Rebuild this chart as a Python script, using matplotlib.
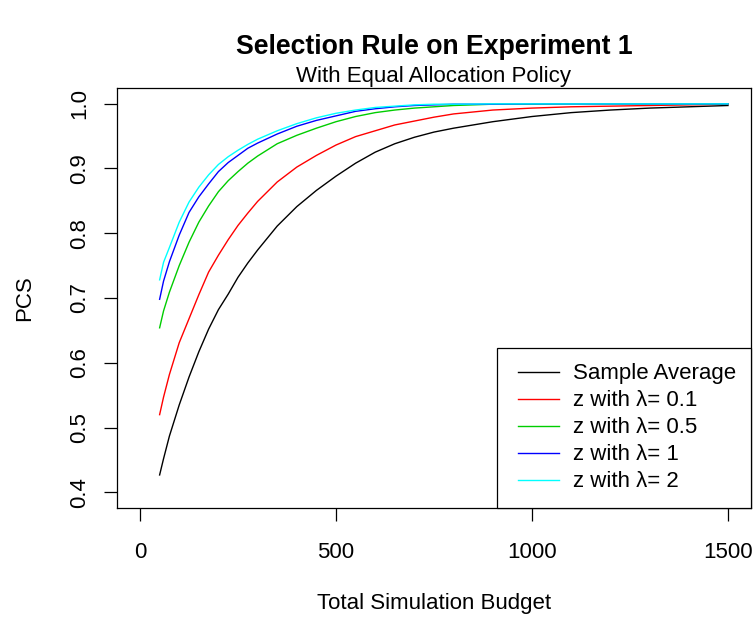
import matplotlib
matplotlib.use("Agg")
import matplotlib.pyplot as plt
from matplotlib.lines import Line2D
from matplotlib.legend_handler import HandlerLine2D

plt.rcParams['font.family'] = ['Liberation Sans', 'DejaVu Sans']

# values (PCS against total budget)
budget = [50, 60, 75, 100, 125, 150, 175, 200, 225, 250, 275, 300, 350, 400, 450,
          500, 550, 600, 650, 700, 750, 800, 900, 1000, 1100, 1200, 1300, 1400, 1500]
sample_avg = [0.427, 0.452, 0.487, 0.535, 0.578, 0.617, 0.652, 0.682, 0.706, 0.732,
              0.754, 0.774, 0.811, 0.841, 0.866, 0.888, 0.908, 0.925, 0.938, 0.948,
              0.956, 0.962, 0.972, 0.980, 0.986, 0.990, 0.993, 0.995, 0.997]
z_01 = [0.520, 0.547, 0.582, 0.631, 0.668, 0.705, 0.740, 0.766, 0.790, 0.812,
        0.831, 0.849, 0.879, 0.902, 0.920, 0.936, 0.949, 0.958, 0.967, 0.973,
        0.979, 0.984, 0.990, 0.993, 0.995, 0.996, 0.997, 0.998, 0.999]
z_05 = [0.654, 0.680, 0.709, 0.750, 0.786, 0.817, 0.842, 0.864, 0.881, 0.895,
        0.908, 0.919, 0.938, 0.951, 0.962, 0.972, 0.980, 0.986, 0.990, 0.993,
        0.995, 0.997, 0.999, 0.999, 0.9995, 0.9995, 0.9995, 0.9995, 0.9995]
z_1 = [0.698, 0.726, 0.756, 0.797, 0.832, 0.856, 0.876, 0.895, 0.909, 0.920,
       0.931, 0.939, 0.953, 0.965, 0.974, 0.981, 0.988, 0.992, 0.995, 0.997,
       0.998, 0.999, 0.999, 0.9995, 0.9995, 0.9995, 0.9995, 0.9995, 0.9995]
z_2 = [0.728, 0.755, 0.778, 0.817, 0.848, 0.871, 0.890, 0.906, 0.918, 0.928,
       0.937, 0.945, 0.958, 0.969, 0.978, 0.985, 0.990, 0.994, 0.996, 0.998,
       0.999, 0.999, 0.9995, 0.9995, 0.9995, 0.9995, 0.9995, 0.9995, 0.9995]

series = [sample_avg, z_01, z_05, z_1, z_2]
labels = ['Sample Average', 'z with \u03bb= 0.1', 'z with \u03bb= 0.5',
          'z with \u03bb= 1', 'z with \u03bb= 2']
colors = ['black', '#FF0000', '#00CD00', '#0000FF', '#00FFFF']

x_ticks = [0, 500, 1000, 1500]
y_ticks = [0.4, 0.5, 0.6, 0.7, 0.8, 0.9, 1.0]

fig = plt.figure(figsize=(7.54, 6.17), dpi=100)
ax = fig.add_axes([116.5 / 754, 1 - 508 / 617, 635 / 754, 420 / 617])

for vals, lab, col in zip(series, labels, colors):
    ax.plot(budget, vals, color=col, linewidth=1.0, label=lab)

ax.set_xlim(-60, 1560)
ax.set_ylim(0.376, 1.024)
ax.set_xticks(x_ticks)
ax.set_xticklabels([str(t) for t in x_ticks])
ax.set_yticks(y_ticks)
ax.set_yticklabels(['%.1f' % t for t in y_ticks])

for s in ax.spines.values():
    s.set_linewidth(0.9)
    s.set_color('black')

ax.tick_params(axis='both', direction='out', length=9.4, width=0.9,
               labelsize=16, colors='black')
ax.tick_params(axis='x', pad=15)
ax.tick_params(axis='y', pad=9.5)
for t in ax.get_yticklabels():
    t.set_rotation(90)
    t.set_va('center')
    t.set_ha('right')

ax.set_xlabel('Total Simulation Budget', fontsize=16, labelpad=22)
ax.set_ylabel('PCS', fontsize=16, labelpad=24.5)

cx = (116.5 + 635 / 2) / 754
fig.text(cx, 1 - 54 / 617, 'Selection Rule on Experiment 1', fontsize=19.2,
         fontweight='bold', ha='center', va='baseline')
fig.text(cx, 1 - 82 / 617, 'With Equal Allocation Policy', fontsize=16,
         ha='center', va='baseline')

leg = ax.legend(loc='lower right', fontsize=16, frameon=True, fancybox=False,
                edgecolor='black', framealpha=1, borderaxespad=0,
                handlelength=2.07, handletextpad=0.63, borderpad=0.7,
                labelspacing=0.27,
                handler_map={Line2D: HandlerLine2D(xpad=0.225)})
leg.get_frame().set_linewidth(0.9)

fig.savefig('out.png', dpi=100)
